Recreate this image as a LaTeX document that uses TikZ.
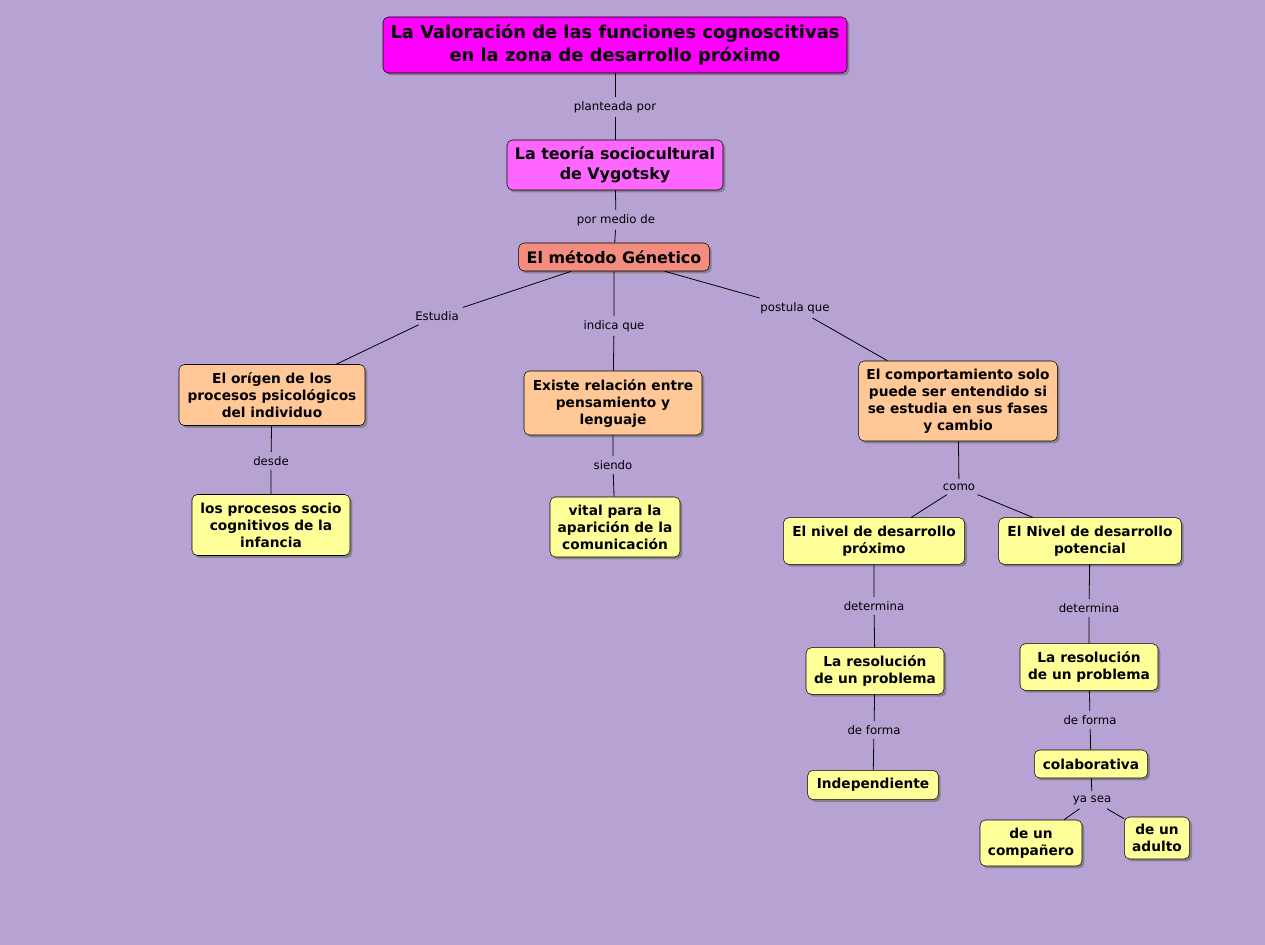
\documentclass[tikz,border=0pt]{standalone}
\usepackage{fontspec}
\setmainfont{DejaVu Sans}
\usepackage{tikz}
\usetikzlibrary{shadows}
\definecolor{paper}{RGB}{182,163,212}
\definecolor{titlemag}{RGB}{255,0,255}
\definecolor{teomag}{RGB}{255,102,255}
\definecolor{salmon}{RGB}{244,140,128}
\definecolor{peach}{RGB}{255,200,150}
\definecolor{lemon}{RGB}{255,255,153}
\tikzset{
 concept/.style={draw=black, rounded corners=4pt, align=center, font=\bfseries\fontsize{10.3}{12.75}\selectfont,
   inner xsep=4pt, inner ysep=3pt, drop shadow={shadow xshift=1.8pt, shadow yshift=-1.8pt, fill=black!55, opacity=.7}},
 linkword/.style={font=\fontsize{8.8}{9}\selectfont, inner sep=3pt},
 link/.style={black, line width=0.6pt}
}

\begin{document}
\begin{tikzpicture}[x=0.75pt, y=-0.75pt]
\fill[paper] (0,0) rectangle (1265,945);
% concepts
\node[concept, fill=titlemag, font=\bfseries\fontsize{13.4}{17}\selectfont, minimum width=348pt, minimum height=42pt] (titulo) at (615,45) {La Valoración de las funciones cognoscitivas\\en la zona de desarrollo próximo};
\node[concept, fill=teomag, font=\bfseries\fontsize{11.9}{15}\selectfont, minimum width=162pt, minimum height=37.5pt] (teoria) at (615,165) {La teoría sociocultural\\de Vygotsky};
\node[concept, fill=salmon, font=\bfseries\fontsize{11.9}{15}\selectfont, minimum width=143pt, minimum height=21pt] (metodo) at (614,257) {El método Génetico};
\node[concept, fill=peach, minimum width=139.5pt, minimum height=45.75pt] (origen) at (272,395) {El orígen de los\\procesos psicológicos\\del individuo};
\node[concept, fill=peach, minimum width=133.5pt, minimum height=48pt] (relacion) at (613,403) {Existe relación entre\\pensamiento y\\lenguaje};
\node[concept, fill=peach, minimum width=149pt, minimum height=60pt] (comport) at (958,401) {El comportamiento solo\\puede ser entendido si\\se estudia en sus fases\\y cambio};
\node[concept, fill=lemon, minimum width=118.5pt, minimum height=45.75pt] (infancia) at (271,525) {los procesos socio\\cognitivos de la\\infancia};
\node[concept, fill=lemon, minimum width=97.5pt, minimum height=45pt] (vital) at (615,527) {vital para la\\aparición de la\\comunicación};
\node[concept, fill=lemon, minimum width=136pt, minimum height=35pt] (proximo) at (874,541) {El nivel de desarrollo\\próximo};
\node[concept, fill=lemon, minimum width=137pt, minimum height=35pt] (potencial) at (1090,541) {El Nivel de desarrollo\\potencial};
\node[concept, fill=lemon, minimum width=103.5pt, minimum height=35pt] (resA) at (875,671) {La resolución\\de un problema};
\node[concept, fill=lemon, minimum width=103.5pt, minimum height=35pt] (resB) at (1089,667) {La resolución\\de un problema};
\node[concept, fill=lemon, minimum width=98pt, minimum height=22pt] (indep) at (873,785) {Independiente};
\node[concept, fill=lemon, minimum width=85pt, minimum height=21pt] (colab) at (1091,764) {colaborativa};
\node[concept, fill=lemon, minimum width=76.5pt, minimum height=34.5pt] (companero) at (1031,843) {de un\\compañero};
\node[concept, fill=lemon, minimum width=49pt, minimum height=31.5pt] (adulto) at (1157,838) {de un\\adulto};
% linking words
\node[linkword] (lplan) at (615,107) {planteada por};
\node[linkword] (lmedio) at (616,220) {por medio de};
\node[linkword] (lestud) at (437,316) {Estudia};
\node[linkword] (lindica) at (614,326) {indica que};
\node[linkword] (lpostula) at (795,308) {postula que};
\node[linkword] (ldesde) at (271,461) {desde};
\node[linkword] (lsiendo) at (613,465) {siendo};
\node[linkword] (lcomo) at (959,487) {como};
\node[linkword] (ldetA) at (874,606) {determina};
\node[linkword] (ldetB) at (1089,608) {determina};
\node[linkword] (lformaA) at (874,730) {de forma};
\node[linkword] (lformaB) at (1090,720) {de forma};
\node[linkword] (lyasea) at (1092,800) {ya sea};
% connectors
\draw[link] (titulo) -- (lplan) -- (teoria);
\draw[link] (teoria) -- (lmedio) -- (metodo);
\draw[link] (metodo) -- (lestud) -- (origen);
\draw[link] (metodo) -- (lindica) -- (relacion);
\draw[link] (metodo) -- (lpostula) -- (comport);
\draw[link] (origen) -- (ldesde) -- (infancia);
\draw[link] (relacion) -- (lsiendo) -- (vital);
\draw[link] (comport) -- (lcomo);
\draw[link] (lcomo) -- (proximo);
\draw[link] (lcomo) -- (potencial);
\draw[link] (proximo) -- (ldetA) -- (resA);
\draw[link] (potencial) -- (ldetB) -- (resB);
\draw[link] (resA) -- (lformaA) -- (indep);
\draw[link] (resB) -- (lformaB) -- (colab);
\draw[link] (colab) -- (lyasea);
\draw[link] (lyasea) -- (companero);
\draw[link] (lyasea) -- (adulto);
\end{tikzpicture}
\end{document}
